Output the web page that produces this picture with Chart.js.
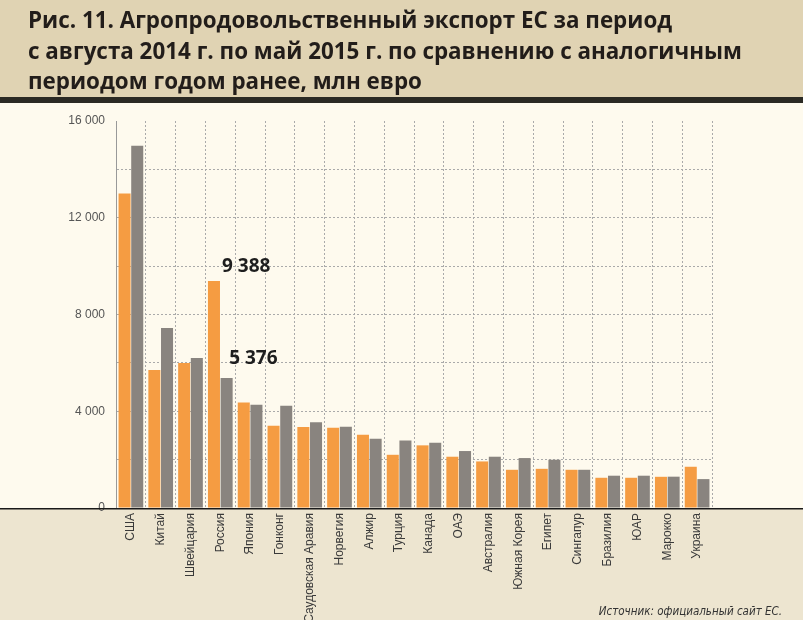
<!DOCTYPE html>
<html>
<head>
<meta charset="utf-8">
<script src="https://cdn.jsdelivr.net/npm/chart.js@4/dist/chart.umd.min.js"></script>
<style>
  html, body { margin: 0; padding: 0; background: #fefaee; }
  canvas { display: block; }
</style>
</head>
<body>
<canvas id="exportChart" width="803" height="620"></canvas>
<script>
// Agri-food exports of the EU, mln euro

const countries = ['США', 'Китай', 'Швейцария', 'Россия', 'Япония', 'Гонконг', 'Саудовская Аравия',
  'Норвегия', 'Алжир', 'Турция', 'Канада', 'ОАЭ', 'Австралия', 'Южная Корея', 'Египет',
  'Сингапур', 'Бразилия', 'ЮАР', 'Марокко', 'Украина'];

const prevPeriod = [13000, 5710, 5990, 9388, 4360, 3400, 3345, 3315, 3030, 2200,
  2590, 2120, 1925, 1580, 1620, 1580, 1250, 1250, 1290, 1705];
const curPeriod = [14980, 7440, 6200, 5376, 4265, 4225, 3550, 3360, 2860, 2795,
  2700, 2355, 2120, 2065, 1995, 1580, 1335, 1335, 1295, 1195];

const yTicks = [0, 4000, 8000, 12000, 16000];

const titleLines = [
  'Рис. 11. Агропродовольственный экспорт ЕС за период',
  'с августа 2014 г. по май 2015 г. по сравнению с аналогичным',
  'периодом годом ранее, млн евро'
];
const sourceText = 'Источник: официальный сайт ЕС.';
const highlightIndex = 3; // Россия

const fmt = v => String(v).replace(/\B(?=(\d{3})+(?!\d))/g, ' ');

// backgrounds, title, source and the two value labels
const decorPlugin = {
  id: 'decor',
  beforeDraw(chart) {
    const ctx = chart.ctx;
    const W = chart.width, H = chart.height;
    const bottom = chart.chartArea.bottom;
    ctx.save();
    ctx.fillStyle = '#fefaee';
    ctx.fillRect(0, 0, W, H);
    ctx.fillStyle = '#e0d3b3';
    ctx.fillRect(0, 0, W, 97);
    ctx.fillStyle = '#2b2a24';
    ctx.fillRect(0, 97, W, 6);
    ctx.fillStyle = '#ede5d0';
    ctx.fillRect(0, bottom, W, H - bottom);

    ctx.fillStyle = '#221d1a';
    ctx.font = 'bold 22.4px "Open Sans"';
    ctx.textAlign = 'left';
    ctx.textBaseline = 'alphabetic';
    titleLines.forEach((line, i) => ctx.fillText(line, 28, 28 + i * 30.5));

    ctx.font = 'italic 11.5px "Liberation Sans Narrow", "DejaVu Sans Condensed", "Liberation Sans"';
    ctx.fillStyle = '#333';
    ctx.textAlign = 'right';
    ctx.fillText(sourceText, 782, 615);
    ctx.restore();
  },
  afterDatasetsDraw(chart) {
    const ctx = chart.ctx;
    const bottom = chart.chartArea.bottom;
    ctx.save();
    ctx.strokeStyle = '#1a1a1a';
    ctx.lineWidth = 1.5;
    ctx.beginPath();
    ctx.moveTo(0, bottom + 0.75);
    ctx.lineTo(chart.width, bottom + 0.75);
    ctx.stroke();

    ctx.fillStyle = '#1e1e1e';
    ctx.font = 'bold 19px "Open Sans"';
    ctx.textAlign = 'left';
    ctx.textBaseline = 'alphabetic';
    const b0 = chart.getDatasetMeta(0).data[highlightIndex];
    const b1 = chart.getDatasetMeta(1).data[highlightIndex];
    ctx.fillText(fmt(prevPeriod[highlightIndex]), b0.x + b0.width / 2 + 2, b0.y - 9);
    ctx.fillText(fmt(curPeriod[highlightIndex]), b1.x + 2.5, b1.y - 14);
    ctx.restore();
  }
};

new Chart(document.getElementById('exportChart').getContext('2d'), {
  type: 'bar',
  data: {
    labels: countries,
    datasets: [
      {
        label: 'авг. 2013 – май 2014',
        data: prevPeriod,
        backgroundColor: '#f59c42',
        categoryPercentage: 0.85,
        barPercentage: 0.95
      },
      {
        label: 'авг. 2014 – май 2015',
        data: curPeriod,
        backgroundColor: '#89847f',
        categoryPercentage: 0.85,
        barPercentage: 0.95
      }
    ]
  },
  options: {
    responsive: false,
    devicePixelRatio: 1,
    animation: false,
    layout: { padding: { top: 121, right: 91, left: 20, bottom: 0 } },
    plugins: {
      legend: { display: false },
      tooltip: { enabled: false }
    },
    scales: {
      x: {
        afterFit: s => { s.height = 112; },
        grid: { color: '#aaa', drawTicks: false, offset: true },
        border: { display: false, dash: [2, 2] },
        ticks: {
          autoSkip: false,
          minRotation: 90,
          maxRotation: 90,
          padding: 5,
          color: '#3a3a3a',
          font: { family: '"Liberation Sans"', size: 12 }
        }
      },
      y: {
        min: 0,
        max: 16000,
        afterFit: s => { s.width = 96; },
        grid: {
          drawTicks: false,
          color: c => (c.tick && c.tick.value === 16000 ? 'rgba(0,0,0,0)' : '#aaa')
        },
        border: { display: true, color: '#999', width: 1, dash: [2, 2] },
        ticks: {
          stepSize: 2000,
          padding: 11,
          color: '#555',
          font: { family: '"Liberation Sans"', size: 12 },
          callback: v => (yTicks.includes(v) ? fmt(v) : '')
        }
      }
    }
  },
  plugins: [decorPlugin]
});
</script>
</body>
</html>
